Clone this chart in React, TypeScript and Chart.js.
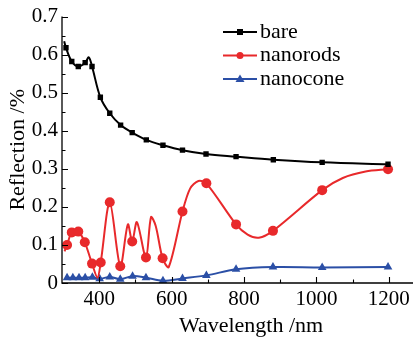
import React, { useEffect, useRef } from 'react';
import { Chart, registerables } from 'chart.js';

Chart.register(...registerables);

// ---- data ----
const seriesNames = ['bare', 'nanorods', 'nanocone'];

const bareX = [303, 308, 324, 342, 361, 371, 380, 403, 429, 459, 491, 530, 576, 630, 695, 778, 881, 1016, 1198];
const bareY = [0.635, 0.618, 0.582, 0.569, 0.579, 0.593, 0.569, 0.488, 0.446, 0.415, 0.395, 0.376, 0.362, 0.349, 0.339, 0.332, 0.324, 0.317, 0.312];
const barePlain = [303, 371];

const rodsX = [304, 311, 324, 342, 360, 380, 395, 404, 429, 458, 479, 491, 504, 529, 543, 556, 575, 592, 630, 651, 674, 696, 778, 810, 841, 880, 1016, 1073, 1136, 1198];
const rodsY = [0.083, 0.1, 0.133, 0.135, 0.107, 0.051, 0.014, 0.054, 0.212, 0.044, 0.154, 0.109, 0.16, 0.067, 0.173, 0.15, 0.065, 0.042, 0.188, 0.248, 0.268, 0.262, 0.154, 0.127, 0.119, 0.137, 0.244, 0.276, 0.293, 0.299];
const rodsPlain = [304, 395, 479, 504, 543, 556, 592, 651, 674, 810, 841, 1073, 1136];

const coneX = [311, 327, 344, 361, 381, 401, 429, 458, 492, 529, 576, 630, 696, 778, 880, 1016, 1198];
const coneY = [0.014, 0.014, 0.014, 0.014, 0.015, 0.011, 0.016, 0.01, 0.018, 0.014, 0.006, 0.012, 0.02, 0.036, 0.042, 0.041, 0.042];

const xMajor = [400, 600, 800, 1000, 1200];
const xMinor = [500, 700, 900, 1100];
const yMajor = [0, 0.1, 0.2, 0.3, 0.4, 0.5, 0.6, 0.7];
const yMinor = [0.05, 0.15, 0.25, 0.35, 0.45, 0.55, 0.65];

const xTitle = 'Wavelength /nm';
const yTitle = 'Reflection /%';

// ---- styles ----
const FONT = '"Liberation Serif"';
const BLACK = '#000000';
const RED = '#e8292b';
const BLUE = '#2b4fa6';

const toPoints = (xs: number[], ys: number[]) => xs.map((x, i) => ({ x, y: ys[i] }));

const radiusFor = (plain: number[], r: number) => (ctx: any) => {
  const raw = ctx.raw as { x: number } | undefined;
  if (!raw) return r;
  return plain.includes(raw.x) ? 0 : r;
};

const axesPlugin = {
  id: 'inwardAxes',
  afterDatasetsDraw(chart: any) {
    const { ctx, chartArea, scales } = chart;
    const xs = scales.x;
    const ys = scales.y;
    ctx.save();
    ctx.strokeStyle = '#000';
    ctx.lineWidth = 1.3;
    ctx.beginPath();
    ctx.moveTo(chartArea.left, chartArea.top);
    ctx.lineTo(chartArea.left, chartArea.bottom);
    ctx.lineTo(chartArea.right, chartArea.bottom);
    ctx.stroke();
    ctx.lineWidth = 1.1;
    ctx.beginPath();
    xMajor.forEach((v) => {
      const px = Math.round(xs.getPixelForValue(v)) + 0.5;
      ctx.moveTo(px, chartArea.bottom);
      ctx.lineTo(px, chartArea.bottom - 6);
    });
    xMinor.forEach((v) => {
      const px = Math.round(xs.getPixelForValue(v)) + 0.5;
      ctx.moveTo(px, chartArea.bottom);
      ctx.lineTo(px, chartArea.bottom - 3.5);
    });
    yMajor.forEach((v) => {
      const py = Math.round(ys.getPixelForValue(v)) + 0.5;
      ctx.moveTo(chartArea.left, py);
      ctx.lineTo(chartArea.left + 6, py);
    });
    yMinor.forEach((v) => {
      const py = Math.round(ys.getPixelForValue(v)) + 0.5;
      ctx.moveTo(chartArea.left, py);
      ctx.lineTo(chartArea.left + 3.5, py);
    });
    ctx.stroke();
    // x-axis title
    ctx.fillStyle = '#000';
    ctx.font = `22px ${FONT}`;
    ctx.textAlign = 'center';
    ctx.textBaseline = 'middle';
    ctx.fillText(xTitle, 251, 326);
    ctx.restore();
  },
};

const legendPlugin = {
  id: 'innerLegend',
  afterDraw(chart: any) {
    const { ctx } = chart;
    const rows = chart.data.datasets;
    ctx.save();
    rows.forEach((ds: any, i: number) => {
      const y = 32 + i * 23.5;
      ctx.strokeStyle = ds.borderColor;
      ctx.lineWidth = 2;
      ctx.beginPath();
      ctx.moveTo(223, y);
      ctx.lineTo(257, y);
      ctx.stroke();
      ctx.fillStyle = ds.borderColor;
      ctx.beginPath();
      if (ds.pointStyle === 'rect') {
        ctx.rect(240 - 3, y - 3, 6, 6);
      } else if (ds.pointStyle === 'triangle') {
        ctx.moveTo(240, y - 4.5);
        ctx.lineTo(244.5, y + 3);
        ctx.lineTo(235.5, y + 3);
        ctx.closePath();
      } else {
        ctx.arc(240, y, 3.5, 0, Math.PI * 2);
      }
      ctx.fill();
      ctx.fillStyle = '#000';
      ctx.font = `22px ${FONT}`;
      ctx.textBaseline = 'middle';
      ctx.textAlign = 'left';
      ctx.fillText(ds.label, 260, y);
    });
    ctx.restore();
  },
};

export default function App() {
  const canvasRef = useRef<HTMLCanvasElement | null>(null);

  useEffect(() => {
    const canvas = canvasRef.current;
    if (!canvas) return;
    const chart = new Chart(canvas, {
      type: 'line',
      data: {
        datasets: [
          {
            label: seriesNames[0],
            data: toPoints(bareX, bareY),
            borderColor: BLACK,
            backgroundColor: BLACK,
            borderWidth: 2,
            pointStyle: 'rect',
            pointRadius: radiusFor(barePlain, 3.8),
            pointBorderWidth: 0,
            tension: 0.35,
          },
          {
            label: seriesNames[1],
            data: toPoints(rodsX, rodsY),
            borderColor: RED,
            backgroundColor: RED,
            borderWidth: 2,
            pointStyle: 'circle',
            pointRadius: radiusFor(rodsPlain, 5),
            pointBorderWidth: 0,
            tension: 0.3,
          },
          {
            label: seriesNames[2],
            data: toPoints(coneX, coneY),
            borderColor: BLUE,
            backgroundColor: BLUE,
            borderWidth: 2,
            pointStyle: 'triangle',
            pointRadius: 5,
            pointBorderWidth: 0,
            tension: 0.35,
          },
        ],
      },
      options: {
        animation: false,
        responsive: false,
        maintainAspectRatio: false,
        layout: { padding: { top: 12, left: 0, right: 0, bottom: 0 } },
        plugins: {
          legend: { display: false },
          tooltip: { enabled: false },
        },
        scales: {
          x: {
            type: 'linear',
            min: 297,
            max: 1267,
            grid: { display: false, drawTicks: false },
            border: { display: false },
            afterBuildTicks: (s: any) => {
              s.ticks = xMajor.map((value) => ({ value }));
            },
            afterFit: (s: any) => {
              s.height = 57;
            },
            ticks: {
              color: '#000',
              padding: 4,
              maxRotation: 0,
              font: { family: FONT, size: 21 },
              callback: (v: any) => String(v),
            },
            title: { display: false, text: xTitle },
          },
          y: {
            type: 'linear',
            min: 0,
            max: 0.7,
            grid: { display: false, drawTicks: false },
            border: { display: false },
            afterBuildTicks: (s: any) => {
              s.ticks = yMajor.map((value) => ({ value }));
            },
            afterFit: (s: any) => {
              s.width = 62;
            },
            ticks: {
              color: '#000',
              padding: 4,
              font: { family: FONT, size: 21 },
              callback: (v: any) => String(Math.round(Number(v) * 10) / 10),
            },
            title: {
              display: true,
              text: yTitle,
              color: '#000',
              font: { family: FONT, size: 22 },
              padding: { top: 5, bottom: 0 },
            },
          },
        },
      },
      plugins: [axesPlugin, legendPlugin],
    });
    return () => chart.destroy();
  }, []);

  return (
    <div style={{ position: 'fixed', left: 0, top: 0, width: 418, height: 340, background: '#fff' }}>
      <canvas ref={canvasRef} width={418} height={340} style={{ width: 418, height: 340, display: 'block' }} />
    </div>
  );
}
